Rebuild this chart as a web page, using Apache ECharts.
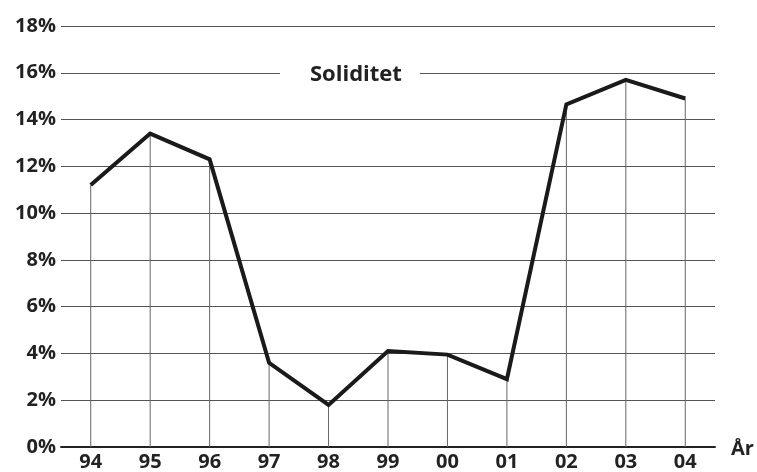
<!DOCTYPE html>
<html><head><meta charset="utf-8">
<script src="https://cdn.jsdelivr.net/npm/echarts@6/dist/echarts.min.js"></script>
<style>html,body{margin:0;padding:0;background:#fff}#c{width:757px;height:472px}</style>
</head><body><div id="c"></div>
<script>
const years = ['94','95','96','97','98','99','00','01','02','03','04'];
const soliditet = [11.2, 13.4, 12.3, 3.6, 1.8, 4.1, 3.95, 2.9, 14.65, 15.7, 14.9];
const yTicks = [0, 2, 4, 6, 8, 10, 12, 14, 16, 18];
const titleText = 'Soliditet';
const xName = 'År';
const FONT = '"Open Sans", "Noto Sans", sans-serif';

const chart = echarts.init(document.getElementById('c'), null, {renderer: 'canvas'});
chart.setOption({
  animation: false,
  backgroundColor: '#fff',
  title: {
    text: titleText, left: 280, top: 61,
    padding: [3, 18, 3, 30], backgroundColor: '#fff',
    textStyle: {fontFamily: FONT, fontWeight: 'bold', fontSize: 22, color: '#222'}
  },
  grid: {left: 61, right: 42, top: 26, bottom: 25, containLabel: false},
  xAxis: {
    type: 'category', data: years, boundaryGap: true,
    name: xName, nameLocation: 'end', nameGap: 16,
    nameTextStyle: {fontFamily: FONT, fontWeight: 'bold', fontSize: 20, color: '#222', verticalAlign: 'top', padding: [-8,0,0,0]},
    axisLine: {lineStyle: {color: '#222', width: 2}},
    axisTick: {show: false},
    axisLabel: {fontFamily: FONT, fontWeight: 'bold', fontSize: 20, color: '#222', margin: 5},
    splitLine: {show: false}
  },
  yAxis: {
    type: 'value', min: yTicks[0], max: yTicks[yTicks.length-1], interval: 2,
    axisLine: {show: false}, axisTick: {show: false},
    axisLabel: {fontFamily: FONT, fontWeight: 'bold', fontSize: 20, color: '#222', margin: 5,
      formatter: v => v + '%'},
    splitLine: {lineStyle: {color: '#555', width: 1}}
  },
  series: [
    {type: 'bar', data: soliditet, barWidth: 1, itemStyle: {color: '#666'}, silent: true, z: 1},
    {type: 'line', data: soliditet, symbol: 'none', lineStyle: {color: '#1a1a1a', width: 4, join: 'miter'}, z: 3}
  ]
});
</script></body></html>
